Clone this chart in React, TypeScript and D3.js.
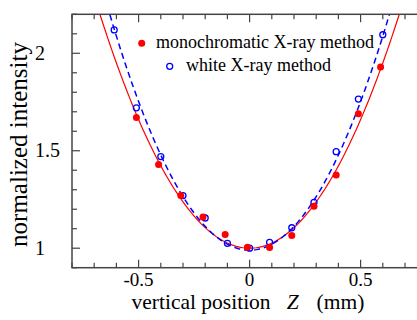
import { useEffect, useRef } from "react";
import * as d3 from "d3";

// monochromatic X-ray method (filled red dots)
const monoZ = [-0.51, -0.41, -0.31, -0.21, -0.11, -0.01, 0.09, 0.19, 0.29, 0.39, 0.49, 0.59];
const monoI = [1.67, 1.43, 1.27, 1.16, 1.07, 1.005, 1.003, 1.065, 1.215, 1.375, 1.69, 1.93];

// white X-ray method (open blue circles)
const whiteZ = [-0.61, -0.51, -0.4, -0.3, -0.2, -0.1, 0, 0.09, 0.19, 0.29, 0.39, 0.49, 0.6];
const whiteI = [2.12, 1.72, 1.47, 1.27, 1.155, 1.025, 1.0, 1.03, 1.105, 1.235, 1.495, 1.765, 2.095];

// parabolic fits: c0 + c1*z + c2*z^2
const monoFit = [1.0, 0.0, 2.64];
const whiteFit = [0.99, 0.0, 3.05];

const xTicks = [-0.5, 0, 0.5];
const yTicks = [1, 1.5, 2];

export default function App() {
  const svgRef = useRef<SVGSVGElement | null>(null);

  useEffect(() => {
    const svg = d3.select(svgRef.current);
    svg.selectAll("*").remove();

    const left = 72, top = 14.3, bottom = 267.7;
    const x = d3.scaleLinear().domain([-0.8, 0.8]).range([left, left + 355.2]);
    const y = d3.scaleLinear().domain([0.9, 2.2]).range([bottom, top]);
    const font = "'Liberation Serif', 'Times New Roman', serif";

    svg.append("defs").append("clipPath").attr("id", "plot")
      .append("rect")
      .attr("x", left).attr("y", top)
      .attr("width", 355.2).attr("height", bottom - top);

    // fit curves
    const zs = d3.range(-0.8, 0.8001, 0.01);
    const fitLine = (c: number[]) =>
      d3.line<number>()
        .x(z => x(z))
        .y(z => y(c[0] + c[1] * z + c[2] * z * z))(zs);

    const curves = svg.append("g").attr("clip-path", "url(#plot)");
    curves.append("path")
      .attr("d", fitLine(monoFit))
      .attr("fill", "none")
      .attr("stroke", "#ff0000")
      .attr("stroke-width", 1.2);
    curves.append("path")
      .attr("d", fitLine(whiteFit))
      .attr("fill", "none")
      .attr("stroke", "#0000ff")
      .attr("stroke-width", 1.5)
      .attr("stroke-dasharray", "6,4");

    // frame
    const frameColor = "#444";
    svg.append("rect")
      .attr("x", left).attr("y", top)
      .attr("width", 355.2).attr("height", bottom - top)
      .attr("fill", "none")
      .attr("stroke", frameColor)
      .attr("stroke-width", 1.5);

    // x ticks (bottom + top, inward)
    const xMinor = d3.range(-8, 9).map(i => i / 10);
    xMinor.forEach(v => {
      const major = Math.abs(v * 2 - Math.round(v * 2)) < 1e-6;
      const len = major ? 8 : 5;
      svg.append("line")
        .attr("x1", x(v)).attr("x2", x(v))
        .attr("y1", bottom).attr("y2", bottom - len)
        .attr("stroke", frameColor).attr("stroke-width", 1.2);
      svg.append("line")
        .attr("x1", x(v)).attr("x2", x(v))
        .attr("y1", top).attr("y2", top + len)
        .attr("stroke", frameColor).attr("stroke-width", 1.2);
    });

    // y ticks (left, inward)
    const yMinor = d3.range(9, 23).map(i => i / 10);
    yMinor.forEach(v => {
      const major = Math.abs(v * 2 - Math.round(v * 2)) < 1e-6;
      svg.append("line")
        .attr("x1", left).attr("x2", left + (major ? 8 : 5))
        .attr("y1", y(v)).attr("y2", y(v))
        .attr("stroke", frameColor).attr("stroke-width", 1.2);
    });

    // tick labels
    svg.selectAll(".xt")
      .data(xTicks)
      .join("text")
      .attr("x", d => x(d))
      .attr("y", 286)
      .attr("text-anchor", "middle")
      .attr("font-family", font)
      .attr("font-size", 19)
      .text(d => (d === 0 ? "0" : String(d)));

    svg.selectAll(".yt")
      .data(yTicks)
      .join("text")
      .attr("x", 35)
      .attr("y", d => y(d) + 6.5)
      .attr("font-family", font)
      .attr("font-size", 20)
      .text(d => String(d));

    // axis titles
    const xt = svg.append("text")
      .attr("x", 131.5)
      .attr("y", 309)
      .attr("font-family", font)
      .attr("font-size", 21.5);
    xt.append("tspan").text("vertical position");
    xt.append("tspan").attr("dx", 16).attr("font-style", "italic").text("Z");
    xt.append("tspan").attr("dx", 18).text("(mm)");

    svg.append("text")
      .attr("transform", "translate(27,144.5) rotate(-90)")
      .attr("text-anchor", "middle")
      .attr("font-family", font)
      .attr("font-size", 25)
      .text("normalized intensity");

    // data points
    svg.selectAll(".white")
      .data(whiteZ.map((z, i) => [z, whiteI[i]]))
      .join("circle")
      .attr("cx", d => x(d[0]))
      .attr("cy", d => y(d[1]))
      .attr("r", 3)
      .attr("fill", "none")
      .attr("stroke", "#0000ff")
      .attr("stroke-width", 1.3);

    svg.selectAll(".mono")
      .data(monoZ.map((z, i) => [z, monoI[i]]))
      .join("circle")
      .attr("cx", d => x(d[0]))
      .attr("cy", d => y(d[1]))
      .attr("r", 3.5)
      .attr("fill", "#ff0000");

    // legend
    svg.append("circle")
      .attr("cx", 141.7).attr("cy", 43.3).attr("r", 3.5)
      .attr("fill", "#ff0000");
    svg.append("text")
      .attr("x", 156).attr("y", 47.5)
      .attr("font-family", font).attr("font-size", 18)
      .text("monochromatic X-ray method");
    svg.append("circle")
      .attr("cx", 169.7).attr("cy", 66.3).attr("r", 3)
      .attr("fill", "none")
      .attr("stroke", "#0000ff").attr("stroke-width", 1.3);
    svg.append("text")
      .attr("x", 186).attr("y", 70.5)
      .attr("font-family", font).attr("font-size", 18)
      .text("white X-ray method");
  }, []);

  return (
    <svg
      ref={svgRef}
      width={417}
      height={320}
      style={{ position: "absolute", left: 0, top: 0, background: "#fff" }}
    />
  );
}
